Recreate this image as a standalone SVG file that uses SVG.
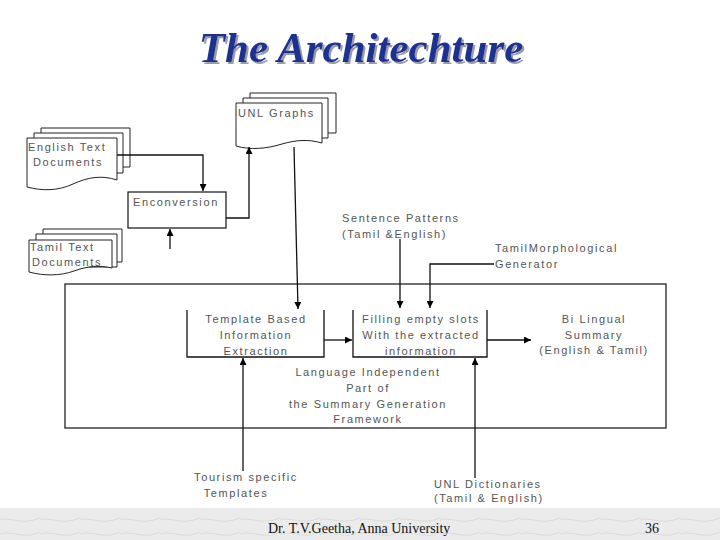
<svg xmlns="http://www.w3.org/2000/svg" width="720" height="540" viewBox="0 0 720 540">
<style>
.t{font-family:"Liberation Sans",Arial,sans-serif;font-size:11px;fill:#555;letter-spacing:1.6px}
.c{text-anchor:middle}
.doc{fill:#fff;stroke:#222;stroke-width:1}
.box{fill:#fff;stroke:#111;stroke-width:1.2}
.ln{fill:none;stroke:#111;stroke-width:1.3}
.title{font-family:"Liberation Serif","Times New Roman",serif;font-size:43px;font-weight:bold;font-style:italic;text-anchor:middle}
.foot{font-family:"Liberation Serif","Times New Roman",serif;font-size:14px;fill:#111}
</style>
<defs>
<marker id="ah" viewBox="0 0 10 10" refX="10" refY="5" markerWidth="7" markerHeight="7" markerUnits="userSpaceOnUse" orient="auto">
<path d="M0,0 L10,5 L0,10 Z" fill="#000"/>
</marker>
<filter id="shadow" x="-5%" y="-20%" width="110%" height="140%">
<feDropShadow dx="2" dy="2" stdDeviation="0.6" flood-color="#9a9aa8" flood-opacity="1"/>
</filter>
<pattern id="marble" width="40" height="32" patternUnits="userSpaceOnUse">
<rect width="40" height="32" fill="#ebebeb"/>
<path d="M0,8 C10,4 20,14 40,6 M0,22 C12,18 25,28 40,20" stroke="#dcdcdc" stroke-width="1" fill="none"/>
</pattern>
</defs>
<rect width="720" height="540" fill="#fff"/>
<rect x="0" y="508" width="720" height="32" fill="url(#marble)"/>

<g id="title">
<text class="title" x="361" y="62" fill="#1c3290" filter="url(#shadow)">The Architechture</text>
</g>

<g id="english-docs">
<path class="doc" d="M41,128 H130 V167 H41 Z"/>
<path class="doc" d="M34,133 H123 V173 H34 Z"/>
<path class="doc" d="M27,138 H117 V180 C102,175 88,177 73,184 C58,191 42,191 27,187 Z"/>
<text class="t" x="28" y="151">English Text</text>
<text class="t" x="33" y="166">Documents</text>
</g>

<g id="tamil-docs">
<path class="doc" d="M43,229 H122 V262 H43 Z"/>
<path class="doc" d="M36,234 H117 V267 H36 Z"/>
<path class="doc" d="M29,240 H112 V268 C99,265 88,266 74,271 C60,276 44,276 29,272 Z"/>
<text class="t" x="30" y="251">Tamil Text</text>
<text class="t" x="32" y="266">Documents</text>
</g>

<g id="unl-graphs">
<path class="doc" d="M250,93 H336 V133 H250 Z"/>
<path class="doc" d="M243,98 H328 V138 H243 Z"/>
<path class="doc" d="M236,103 H322 V143 C308,139 296,140 282,144 C266,149 250,150 236,146 Z"/>
<text class="t" x="238" y="117">UNL Graphs</text>
</g>

<g id="enconversion">
<rect class="box" x="128" y="192" width="98" height="36"/>
<text class="t" x="133" y="206">Enconversion</text>
</g>

<g id="sentence-patterns">
<text class="t" x="342" y="222">Sentence Patterns</text>
<text class="t" x="342" y="238">(Tamil &amp;English)</text>
</g>

<g id="morph-generator">
<text class="t" x="495" y="252">TamilMorphological</text>
<text class="t" x="495" y="268">Generator</text>
</g>

<g id="framework">
<rect x="65" y="284" width="601" height="144" fill="none" stroke="#111" stroke-width="1.2"/>
<text class="t c" x="368" y="376">Language Independent</text>
<text class="t c" x="368" y="392">Part of</text>
<text class="t c" x="368" y="408">the Summary Generation</text>
<text class="t c" x="368" y="423">Framework</text>
</g>

<g id="template-extraction">
<path class="ln" d="M187,310 V357 H324 V310"/>
<text class="t c" x="256" y="323">Template Based</text>
<text class="t c" x="256" y="339">Information</text>
<text class="t c" x="256" y="355">Extraction</text>
</g>

<g id="filling-slots">
<path class="ln" d="M353,310 V357 H487 V310"/>
<text class="t c" x="421" y="323">Filling empty slots</text>
<text class="t c" x="421" y="339">With the extracted</text>
<text class="t c" x="421" y="355">information</text>
</g>

<g id="bilingual-summary">
<text class="t c" x="594" y="323">Bi Lingual</text>
<text class="t c" x="594" y="339">Summary</text>
<text class="t c" x="594" y="354">(English &amp; Tamil)</text>
</g>

<g id="tourism-templates">
<text class="t c" x="246" y="481">Tourism specific</text>
<text class="t c" x="236" y="497">Templates</text>
</g>

<g id="unl-dictionaries">
<text class="t" x="434" y="488">UNL Dictionaries</text>
<text class="t" x="434" y="502">(Tamil &amp; English)</text>
</g>

<g id="connectors">
<path class="ln" d="M117,155 H203 V191" marker-end="url(#ah)"/>
<path class="ln" d="M170,249 V229" marker-end="url(#ah)"/>
<path class="ln" d="M226,218 H249 V147" marker-end="url(#ah)"/>
<path class="ln" d="M294,147 L298,309" stroke-width="1.6" marker-end="url(#ah)"/>
<path class="ln" d="M400,239 V308" marker-end="url(#ah)"/>
<path class="ln" d="M494,264 H430 V308" stroke-width="2" marker-end="url(#ah)"/>
<path class="ln" d="M324,340 H352" stroke-width="1.6" marker-end="url(#ah)"/>
<path class="ln" d="M487,340 H531" stroke-width="1.6" marker-end="url(#ah)"/>
<path class="ln" d="M243,471 V358" stroke-width="1.8" marker-end="url(#ah)"/>
<path class="ln" d="M475,478 V358" stroke-width="1.8" marker-end="url(#ah)"/>
</g>

<g id="footer">
<text class="foot" x="268" y="533">Dr. T.V.Geetha, Anna University</text>
<text class="foot" x="645" y="533">36</text>
</g>
</svg>
